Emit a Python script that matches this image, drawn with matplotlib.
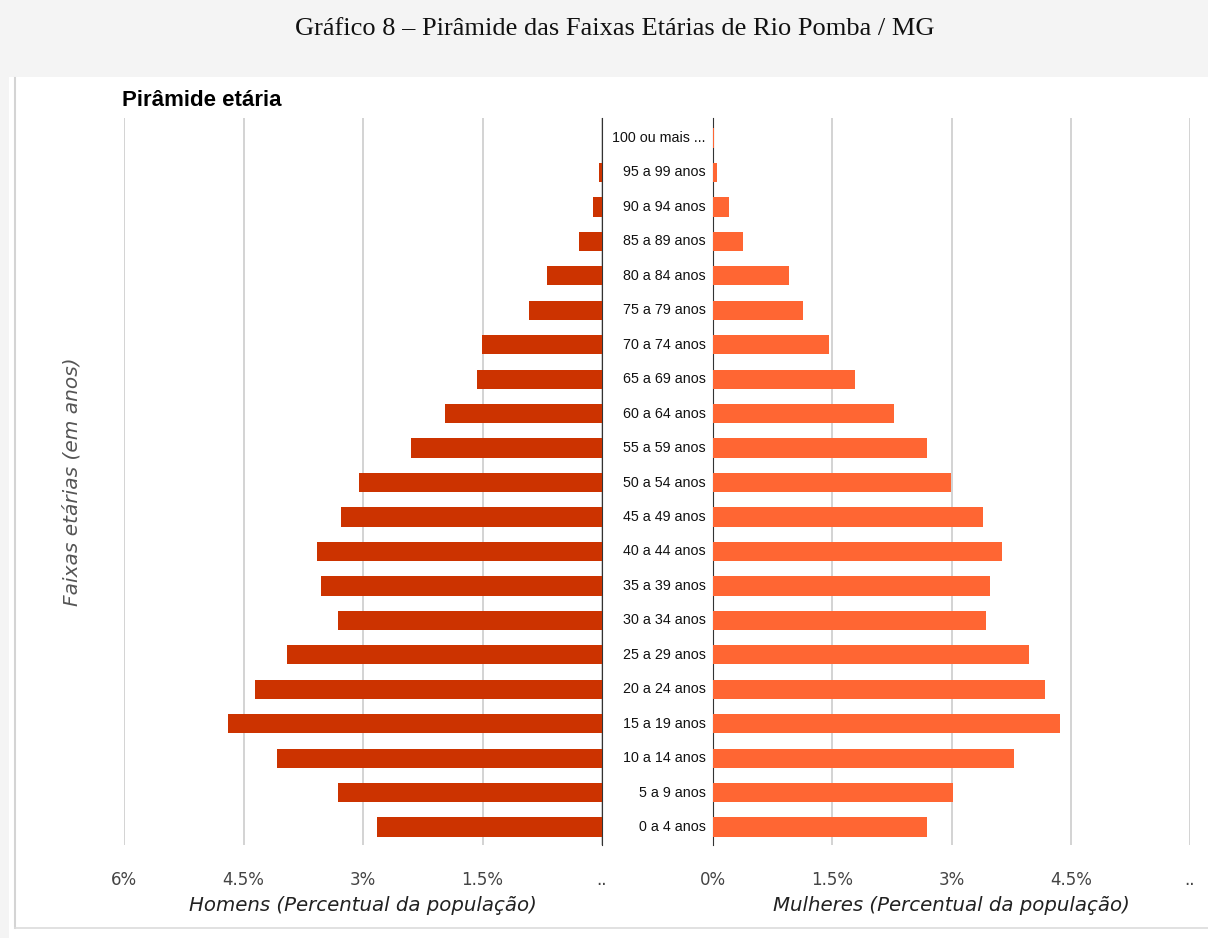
import matplotlib

matplotlib.use("Agg")
import matplotlib.pyplot as plt
from matplotlib.patches import Rectangle
from matplotlib.lines import Line2D
from matplotlib.transforms import blended_transform_factory

FAIXAS = [
    "0 a 4 anos", "5 a 9 anos", "10 a 14 anos", "15 a 19 anos", "20 a 24 anos",
    "25 a 29 anos", "30 a 34 anos", "35 a 39 anos", "40 a 44 anos", "45 a 49 anos",
    "50 a 54 anos", "55 a 59 anos", "60 a 64 anos", "65 a 69 anos", "70 a 74 anos",
    "75 a 79 anos", "80 a 84 anos", "85 a 89 anos", "90 a 94 anos", "95 a 99 anos",
    "100 ou mais ...",
]
HOMENS = [2.82, 3.32, 4.08, 4.70, 4.35, 3.95, 3.32, 3.53, 3.58, 3.27, 3.05,
          2.40, 1.97, 1.57, 1.51, 0.92, 0.69, 0.29, 0.11, 0.04, 0.0]
MULHERES = [2.69, 3.02, 3.79, 4.36, 4.18, 3.97, 3.44, 3.49, 3.64, 3.39, 2.99,
            2.69, 2.28, 1.78, 1.46, 1.13, 0.95, 0.38, 0.20, 0.05, 0.01]
TICKS = [0, 1.5, 3, 4.5, 6]
TICKS_H = ["..", "1.5%", "3%", "4.5%", "6%"]
TICKS_M = ["0%", "1.5%", "3%", "4.5%", ".."]

W, H = 1208, 938
fig = plt.figure(figsize=(W / 100, H / 100), dpi=100, facecolor="#f4f4f4")

# painel branco atrás dos eixos
fig.patches.append(Rectangle((9 / W, 0), 1 - 9 / W, 1 - 77 / H, transform=fig.transFigure,
                             facecolor="white", edgecolor="none", zorder=-5))
fig.add_artist(Line2D([15 / W, 15 / W], [1 - 928 / H, 1 - 78 / H], color="#d4d4d4", lw=1.5,
                      zorder=-4))
fig.add_artist(Line2D([15 / W, 1], [1 - 928 / H, 1 - 928 / H], color="#dcdcdc", lw=1.2,
                      zorder=-4))

fig.text(615 / W, 1 - 29 / H, "Gráfico 8 – Pirâmide das Faixas Etárias de Rio Pomba / MG",
         ha="center", va="center", fontsize=19, family="Liberation Serif", color="#111111")
fig.text(122 / W, 1 - 100 / H, "Pirâmide etária", ha="left", va="center",
         fontsize=16, fontweight="bold", family="Liberation Sans", color="#000000")

bottom = 1 - 845 / H
height = (845 - 118) / H
ax_h = fig.add_axes([124 / W, bottom, (602 - 124) / W, height])
ax_m = fig.add_axes([713 / W, bottom, (1190 - 713) / W, height])

y = list(range(len(FAIXAS)))
ax_h.barh(y, HOMENS, height=0.56, color="#cc3300", zorder=3)
ax_m.barh(y, MULHERES, height=0.56, color="#ff6633", zorder=3)

for ax, labels, xlabel in [(ax_h, TICKS_H, "Homens (Percentual da população)"),
                           (ax_m, TICKS_M, "Mulheres (Percentual da população)")]:
    ax.set_xlim(0, 6)
    ax.set_ylim(-0.52, 20.58)
    ax.set_xticks(TICKS)
    ax.set_xticklabels(labels, family="DejaVu Sans", fontsize=12, color="#444444")
    ax.tick_params(axis="x", length=0, pad=19)
    ax.set_yticks([])
    ax.grid(axis="x", color="#cccccc", linewidth=1.2, zorder=0)
    ax.set_xlabel(xlabel, family="DejaVu Sans", style="italic", fontsize=14.2,
                  color="#222222", labelpad=5)
    ax.patch.set_alpha(0)
    for side in ["top", "bottom", "left", "right"]:
        ax.spines[side].set_visible(False)

ax_h.invert_xaxis()
ax_h.spines["right"].set_visible(True)
ax_h.spines["right"].set_color("#333333")
ax_m.spines["left"].set_visible(True)
ax_m.spines["left"].set_color("#333333")

trans = blended_transform_factory(fig.transFigure, ax_h.transData)
for i, label in enumerate(FAIXAS):
    ax_h.text(706 / W, i, label, transform=trans, ha="right", va="center",
              fontsize=10.3, family="Liberation Sans", color="#111111", clip_on=False)

fig.text(72 / W, 1 - 482 / H, "Faixas etárias (em anos)", rotation=90, ha="center",
         va="center", fontsize=14.5, style="italic", family="DejaVu Sans", color="#555555")

fig.savefig("out.png", dpi=100, facecolor=fig.get_facecolor())
